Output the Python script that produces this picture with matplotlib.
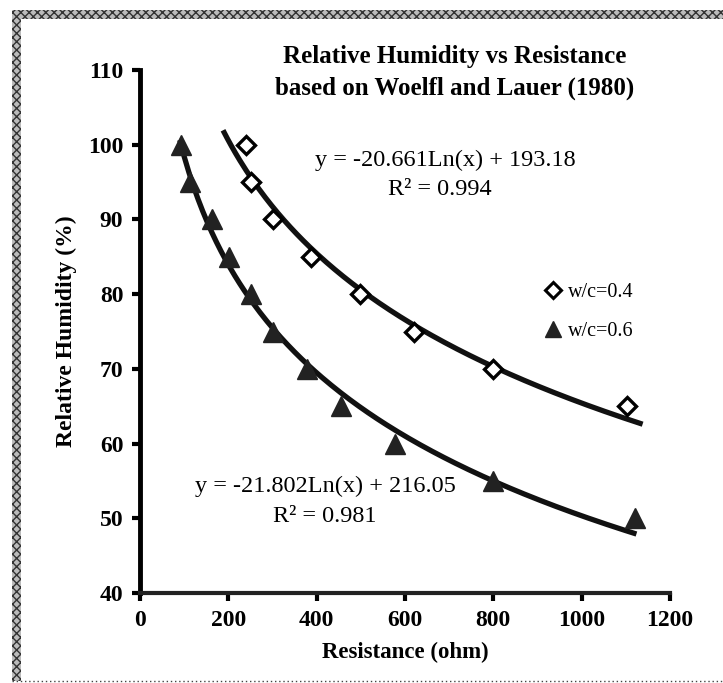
import numpy as np
import matplotlib
matplotlib.use("Agg")
import matplotlib.pyplot as plt
from matplotlib.patches import Rectangle
from matplotlib.lines import Line2D

# ---- data ----
res_04 = [241, 252, 300, 388, 497, 620, 800, 1102]
rh_04 = [100, 95, 90, 85, 80, 75, 70, 65]
res_06 = [92, 113, 162, 202, 252, 300, 377, 454, 578, 800, 1121]
rh_06 = [100, 95, 90, 85, 80, 75, 70, 65, 60, 55, 50]
fit_range_04 = [188, 1138]
fit_range_06 = [90, 1124]
eq_04 = ["y = -20.661Ln(x) + 193.18", "R² = 0.994"]
eq_06 = ["y = -21.802Ln(x) + 216.05", "R² = 0.981"]
labels = ["w/c=0.4", "w/c=0.6"]
title_lines = ["Relative Humidity vs Resistance", "based on Woelfl and Lauer (1980)"]
xticks = [0, 200, 400, 600, 800, 1000, 1200]
yticks = [40, 50, 60, 70, 80, 90, 100, 110]

W, H = 723, 683
plt.rcParams['font.family'] = ['Liberation Serif', 'DejaVu Serif']
fig = plt.figure(figsize=(W / 100, H / 100), dpi=100)

def fx(px):
    return px / W

def fy(py):
    return 1 - py / H

ax = fig.add_axes([fx(140), fy(593), fx(670) - fx(140), fy(70) - fy(593)])
ax.set_xlim(0, 1200)
ax.set_ylim(40, 110)

# fitted log curves (trendlines computed from data)
for xs, ys, rng in [(res_04, rh_04, fit_range_04), (res_06, rh_06, fit_range_06)]:
    a, b = np.polyfit(np.log(xs), ys, 1)
    xx = np.linspace(rng[0], rng[1], 200)
    ax.plot(xx, a * np.log(xx) + b, color='#111111', lw=3.8, solid_capstyle='butt', zorder=2)

ax.plot(res_04, rh_04, linestyle='none', marker='D', markersize=9, markerfacecolor='white',
        markeredgecolor='black', markeredgewidth=2.4, zorder=3)
ax.plot(res_06, rh_06, linestyle='none', marker='^', markersize=14, markerfacecolor='#222222',
        markeredgecolor='#222222', markeredgewidth=1, zorder=3)

# spines
for s in ['top', 'right']:
    ax.spines[s].set_visible(False)
ax.spines['left'].set_linewidth(3.5)
ax.spines['bottom'].set_linewidth(3.0)
ax.spines['bottom'].set_color('#222222')
ax.set_xticks(xticks)
ax.set_yticks(yticks)
ax.tick_params(axis='both', direction='out', length=6, width=3, labelsize=17, pad=6)
for lab in ax.get_xticklabels() + ax.get_yticklabels():
    lab.set_fontweight('bold')

ax.set_xlabel("Resistance (ohm)", fontsize=16.5, fontweight='bold', labelpad=8)
ax.set_ylabel("Relative Humidity (%)", fontsize=17, fontweight='bold', labelpad=8)

# title
fig.text(fx(455), fy(56), title_lines[0], ha='center', va='center', fontsize=18, fontweight='bold')
fig.text(fx(455), fy(88), title_lines[1], ha='center', va='center', fontsize=18, fontweight='bold')

# equations
fig.text(fx(445), fy(160), eq_04[0], ha='center', va='center', fontsize=17.5)
fig.text(fx(440), fy(190), eq_04[1], ha='center', va='center', fontsize=17.5)
fig.text(fx(325), fy(486), eq_06[0], ha='center', va='center', fontsize=17.5)
fig.text(fx(325), fy(517), eq_06[1], ha='center', va='center', fontsize=17.5)

# legend
handles = [Line2D([], [], linestyle='none', marker='D', markersize=8, markerfacecolor='white',
                  markeredgecolor='black', markeredgewidth=2.2),
           Line2D([], [], linestyle='none', marker='^', markersize=12, markerfacecolor='#222222',
                  markeredgecolor='#222222')]
ax.legend(handles, labels, loc='center left', bbox_to_anchor=((537 - 140) / 530, 1 - (312 - 70) / 523),
          frameon=False, fontsize=14.5, handlelength=0.8, handletextpad=0.35, labelspacing=0.95,
          borderaxespad=0)

# scanned border
fig.patches.append(Rectangle((fx(12), fy(19)), fx(723) - fx(12), fy(10) - fy(19), transform=fig.transFigure,
                             facecolor='#bbbbbb', edgecolor='#333333', hatch='xxxx', lw=0))
fig.patches.append(Rectangle((fx(12), fy(681)), fx(21) - fx(12), fy(10) - fy(681), transform=fig.transFigure,
                             facecolor='#bbbbbb', edgecolor='#333333', hatch='xxxx', lw=0))
fig.lines.append(Line2D([fx(12), fx(723)], [fy(681), fy(681)], transform=fig.transFigure,
                        color='#444444', lw=1, linestyle=(0, (1, 2))))

fig.savefig("out.png", dpi=100)
